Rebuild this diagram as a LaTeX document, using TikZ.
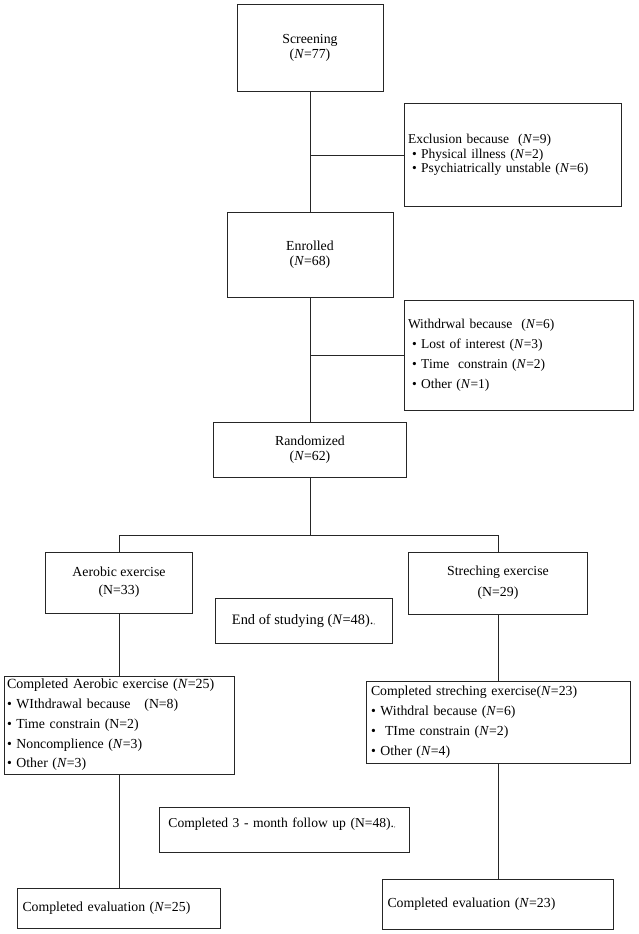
\documentclass[tikz,border=0pt]{standalone}
\usepackage{fontspec}
\setmainfont{Liberation Serif}
\usetikzlibrary{calc}

\newcommand{\iN}{\textit{N}}
\newcommand{\tinycomma}{{\fontsize{6}{6}\selectfont,}}

\begin{document}
\begin{tikzpicture}[x=1pt,y=-1pt,line width=0.9pt,
    every node/.style={font=\fontsize{13.8}{15}\selectfont},
    box/.style={draw=black!85, inner sep=0pt, align=center},
    listbox/.style={draw=black!85, inner ysep=0pt, align=left}]
    \useasboundingbox (0,0) rectangle (638,934);

    \node[box, minimum width=146pt, minimum height=87pt] (scr) at (310,47.5) {Screening\\(\iN=77)};
    \node[listbox, inner xsep=4pt, text width=209pt, minimum height=103pt,
          font=\fontsize{13.5}{14.5}\selectfont] (exc) at (512.5,155)
      {Exclusion because \ (\iN=9)\\
       \hspace*{4pt}\textbullet\ Physical illness (\iN=2)\\
       \hspace*{4pt}\textbullet\ Psychiatrically unstable (\iN=6)};
    \node[box, minimum width=166pt, minimum height=85pt] (enr) at (310,254.5) {Enrolled\\(\iN=68)};
    \node[listbox, inner xsep=4pt, text width=221pt, minimum height=110pt,
          font=\fontsize{13.5}{20}\selectfont] (wdr) at (518.5,355)
      {Withdrwal because \ (\iN=6)\\
       \hspace*{4pt}\textbullet\ Lost of interest (\iN=3)\\
       \hspace*{4pt}\textbullet\ Time \ constrain (\iN=2)\\
       \hspace*{4pt}\textbullet\ Other (\iN=1)};
    \node[box, minimum width=193pt, minimum height=55pt] (rnd) at (310,449.5) {Randomized\\(\iN=62)};

    \node[box, minimum width=147pt, minimum height=61pt,
          font=\fontsize{13.8}{18}\selectfont] (aer) at (119,582.5) {Aerobic exercise\\(N=33)};
    \node[box, minimum width=179pt, minimum height=62pt,
          font=\fontsize{13.8}{21}\selectfont] (str) at (498,583) {Streching exercise\\(N=29)};
    \node[box, minimum width=177pt, minimum height=45pt,
          font=\fontsize{14.4}{18}\selectfont] (eos) at (303.5,620.5) {End of studying (\iN=48).\tinycomma};

    \node[listbox, inner xsep=3pt, text width=224pt, minimum height=98pt,
          font=\fontsize{13.8}{19.7}\selectfont] (caer) at (119,725)
      {{\fontsize{14}{19.7}\selectfont Completed Aerobic exercise (\iN=25)}\\
       \textbullet\ WIthdrawal because \ \ (N=8)\\
       \textbullet\ Time constrain (N=2)\\
       \textbullet\ Noncomplience (\iN=3)\\
       \textbullet\ Other (\iN=3)};
    \node[listbox, inner xsep=5pt, text width=254pt, minimum height=82pt,
          font=\fontsize{13.8}{20}\selectfont] (cstr) at (498,722)
      {Completed streching exercise(\iN=23)\\
       \textbullet\ Withdral because (\iN=6)\\
       \textbullet\ \ TIme constrain (\iN=2)\\
       \textbullet\ Other (\iN=4)};

    \node[listbox, inner xsep=9pt, text width=232pt, text height=20pt, text depth=25pt,
          font=\fontsize{13.6}{15}\selectfont, anchor=north west] (fup) at (159,807)
      {Completed 3 - month follow up (N=48).\tinycomma};

    \node[listbox, inner xsep=5pt, text width=193pt, minimum height=40pt] (evaer) at (119,908)
      {Completed evaluation (\iN=25)};
    \node[listbox, inner xsep=5pt, text width=221pt, minimum height=50pt] (evstr) at (498,904)
      {Completed evaluation (\iN=23)};

    % connectors
    \draw[black!85] (scr.south) -- (enr.north);
    \draw[black!85] (scr.south |- exc.west) -- (exc.west);
    \draw[black!85] (enr.south) -- (rnd.north);
    \draw[black!85] (enr.south |- wdr.west) -- (wdr.west);
    \draw[black!85] (rnd.south) -- ++(0,58) coordinate (fork);
    \draw[black!85] (aer.north) |- (fork) -| (str.north);
    \draw[black!85] (aer.south) -- (caer.north);
    \draw[black!85] (str.south) -- (cstr.north);
    \draw[black!85] (caer.south) -- (evaer.north);
    \draw[black!85] (cstr.south) -- (evstr.north);
\end{tikzpicture}
\end{document}
